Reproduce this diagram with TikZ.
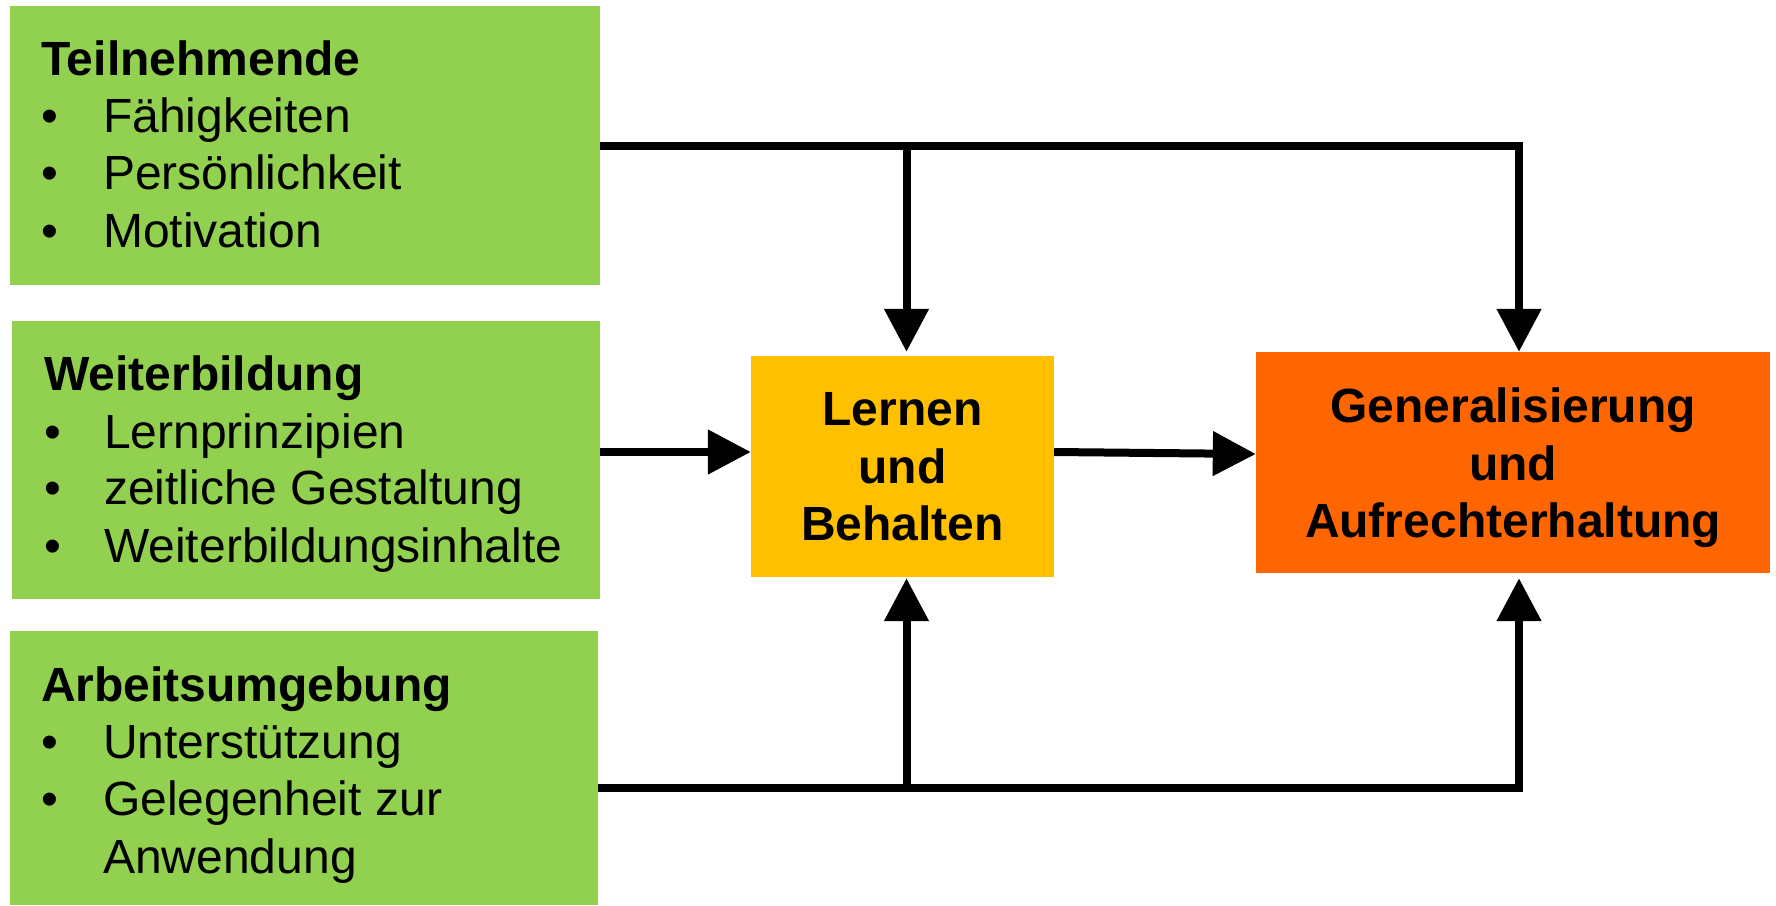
\documentclass[tikz,border=0pt]{standalone}
\usepackage{fontspec}
\setmainfont{Liberation Sans}
\usetikzlibrary{arrows.meta}
\definecolor{cgreen}{HTML}{92D050}
\definecolor{cyellow}{HTML}{FFC000}
\definecolor{corange}{HTML}{FF6600}
\tikzset{
  box/.style={rectangle, inner sep=0pt, draw=none},
  conn/.style={line width=8pt, draw=black},
  arr/.style={conn, -{Triangle[length=43pt,width=43pt]}},
  head/.style={anchor=base west, inner sep=0pt, font=\fontsize{48}{57}\selectfont\bfseries},
  item/.style={anchor=base west, inner sep=0pt, font=\fontsize{48}{57}\selectfont},
  ctext/.style={anchor=base, inner sep=0pt, font=\fontsize{48}{58}\selectfont\bfseries},
}
\newcommand{\bul}[2][62pt]{\makebox[#1][l]{\textbullet}#2}
\begin{document}
\begin{tikzpicture}[x=1pt,y=-1pt]
\useasboundingbox (0,0) rectangle (1776,905);
% boxes
\node[box, fill=cgreen, minimum width=590pt, minimum height=279pt] (b1) at (305,145.5) {};
\node[box, fill=cgreen, minimum width=588pt, minimum height=278pt] (b2) at (306,460) {};
\node[box, fill=cgreen, minimum width=588pt, minimum height=274pt] (b3) at (304,768) {};
\node[box, fill=cyellow, minimum width=303pt, minimum height=221pt] (lern) at (902.5,466.5) {};
\node[box, fill=corange, minimum width=514pt, minimum height=221pt] (gen) at (1513,462.5) {};
% texts box 1
\node[head] (t1h) at (41,75) {Teilnehmende};
\node[item] (t1a) at (41,132) {\bul{Fähigkeiten}};
\node[item] (t1b) at (41,189) {\bul{Persönlichkeit}};
\node[item] (t1c) at (41,247) {\bul{Motivation}};
% texts box 2
\node[head] (t2h) at (44,390) {Weiterbildung};
\node[item] (t2a) at (44,448) {\bul[60pt]{Lernprinzipien}};
\node[item] (t2b) at (44,504) {\bul[60pt]{zeitliche Gestaltung}};
\node[item] (t2c) at (44,562) {\bul[60pt]{Weiterbildungsinhalte}};
% texts box 3
\node[head] (t3h) at (41,701) {Arbeitsumgebung};
\node[item] (t3a) at (41,758) {\bul{Unterstützung}};
\node[item] (t3b) at (41,815) {\bul{Gelegenheit zur}};
\node[item] (t3c) at (103,873) {Anwendung};
% center texts
\node[ctext] (l1) at (902.5,425) {Lernen};
\node[ctext] (l2) at (902.5,483) {und};
\node[ctext] (l3) at (902.5,540) {Behalten};
\node[ctext] (g1) at (1513,422) {Generalisierung};
\node[ctext] (g2) at (1513,480) {und};
\node[ctext] (g3) at (1513,537) {Aufrechterhaltung};
% connectors
\coordinate (m1) at (0,452);
\coordinate (m2) at (0,454);
\coordinate (bot) at (0,788);
\draw[arr] (b1.east) -| ([xshift=6pt]gen.north);
\draw[arr, shorten >=4pt] ([xshift=4pt]lern.north |- b1.east) -- ([xshift=4pt]lern.north);
\draw[arr] (b2.east |- m1) -- (lern.west |- m1);
\draw[arr] (lern.east |- m1) -- (gen.west |- m2);
\draw[arr, shorten >=5pt] (b3.east |- bot) -| ([xshift=6pt]gen.south);
\draw[arr, shorten >=1pt] ([xshift=4pt]lern.south |- bot) -- ([xshift=4pt]lern.south);
\end{tikzpicture}
\end{document}
